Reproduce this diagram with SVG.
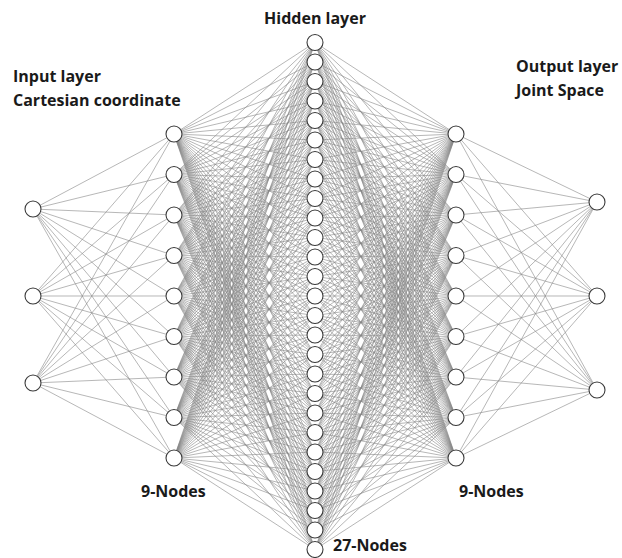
<svg xmlns="http://www.w3.org/2000/svg" width="622" height="558" viewBox="0 0 622 558">
<style>
.c{fill:#fff;stroke:#3a3a3a;stroke-width:1.1}
.t{font-family:"Open Sans","Liberation Sans",sans-serif;font-weight:bold;font-size:16px;fill:#1a1a1a}
.f{fill:none;stroke:#878787;stroke-width:0.6;vector-effect:non-scaling-stroke}
</style>
<defs>
<path id="f27" class="f" d="M0 0L141 42.5M0 0L141 62M0 0L141 81.5M0 0L141 101M0 0L141 120.5M0 0L141 140M0 0L141 159.5M0 0L141 179M0 0L141 198.5M0 0L141 218M0 0L141 237.5M0 0L141 257M0 0L141 276.5M0 0L141 296M0 0L141 315.5M0 0L141 335M0 0L141 354.5M0 0L141 374M0 0L141 393.5M0 0L141 413M0 0L141 432.5M0 0L141 452M0 0L141 471.5M0 0L141 491M0 0L141 510.5M0 0L141 530M0 0L141 549.5"/>
<path id="f9" class="f" d="M0 0L141 134M0 0L141 174.5M0 0L141 215M0 0L141 255.5M0 0L141 296M0 0L141 336.5M0 0L141 377M0 0L141 417.5M0 0L141 458"/>
</defs>
<g id="connectors">
<use href="#f9" transform="matrix(1,-1.482270,0,1,33,209)"/>
<use href="#f9" transform="matrix(1,-2.099291,0,1,33,296)"/>
<use href="#f9" transform="matrix(1,-2.716312,0,1,33,383)"/>
<use href="#f9" transform="matrix(-1,-1.432624,0,1,597,202)"/>
<use href="#f9" transform="matrix(-1,-2.099291,0,1,597,296)"/>
<use href="#f9" transform="matrix(-1,-2.765957,0,1,597,390)"/>
<use href="#f27" transform="matrix(1,-0.950355,0,1,174,134)"/>
<use href="#f27" transform="matrix(1,-1.237589,0,1,174,174.5)"/>
<use href="#f27" transform="matrix(1,-1.524823,0,1,174,215)"/>
<use href="#f27" transform="matrix(1,-1.812057,0,1,174,255.5)"/>
<use href="#f27" transform="matrix(1,-2.099291,0,1,174,296)"/>
<use href="#f27" transform="matrix(1,-2.386525,0,1,174,336.5)"/>
<use href="#f27" transform="matrix(1,-2.673759,0,1,174,377)"/>
<use href="#f27" transform="matrix(1,-2.960993,0,1,174,417.5)"/>
<use href="#f27" transform="matrix(1,-3.248227,0,1,174,458)"/>
<use href="#f27" transform="matrix(-1,-0.950355,0,1,456,134)"/>
<use href="#f27" transform="matrix(-1,-1.237589,0,1,456,174.5)"/>
<use href="#f27" transform="matrix(-1,-1.524823,0,1,456,215)"/>
<use href="#f27" transform="matrix(-1,-1.812057,0,1,456,255.5)"/>
<use href="#f27" transform="matrix(-1,-2.099291,0,1,456,296)"/>
<use href="#f27" transform="matrix(-1,-2.386525,0,1,456,336.5)"/>
<use href="#f27" transform="matrix(-1,-2.673759,0,1,456,377)"/>
<use href="#f27" transform="matrix(-1,-2.960993,0,1,456,417.5)"/>
<use href="#f27" transform="matrix(-1,-3.248227,0,1,456,458)"/>
</g>
<g id="input-layer">
<g id="in1"><circle class="c" cx="33" cy="209" r="8"/></g>
<g id="in2"><circle class="c" cx="33" cy="296" r="8"/></g>
<g id="in3"><circle class="c" cx="33" cy="383" r="8"/></g>
</g>
<g id="layer2">
<g id="a1"><circle class="c" cx="174" cy="134" r="8"/></g>
<g id="a2"><circle class="c" cx="174" cy="174.5" r="8"/></g>
<g id="a3"><circle class="c" cx="174" cy="215" r="8"/></g>
<g id="a4"><circle class="c" cx="174" cy="255.5" r="8"/></g>
<g id="a5"><circle class="c" cx="174" cy="296" r="8"/></g>
<g id="a6"><circle class="c" cx="174" cy="336.5" r="8"/></g>
<g id="a7"><circle class="c" cx="174" cy="377" r="8"/></g>
<g id="a8"><circle class="c" cx="174" cy="417.5" r="8"/></g>
<g id="a9"><circle class="c" cx="174" cy="458" r="8"/></g>
</g>
<g id="hidden-layer">
<g id="h1"><circle class="c" cx="315" cy="42.5" r="8"/></g>
<g id="h2"><circle class="c" cx="315" cy="62" r="8"/></g>
<g id="h3"><circle class="c" cx="315" cy="81.5" r="8"/></g>
<g id="h4"><circle class="c" cx="315" cy="101" r="8"/></g>
<g id="h5"><circle class="c" cx="315" cy="120.5" r="8"/></g>
<g id="h6"><circle class="c" cx="315" cy="140" r="8"/></g>
<g id="h7"><circle class="c" cx="315" cy="159.5" r="8"/></g>
<g id="h8"><circle class="c" cx="315" cy="179" r="8"/></g>
<g id="h9"><circle class="c" cx="315" cy="198.5" r="8"/></g>
<g id="h10"><circle class="c" cx="315" cy="218" r="8"/></g>
<g id="h11"><circle class="c" cx="315" cy="237.5" r="8"/></g>
<g id="h12"><circle class="c" cx="315" cy="257" r="8"/></g>
<g id="h13"><circle class="c" cx="315" cy="276.5" r="8"/></g>
<g id="h14"><circle class="c" cx="315" cy="296" r="8"/></g>
<g id="h15"><circle class="c" cx="315" cy="315.5" r="8"/></g>
<g id="h16"><circle class="c" cx="315" cy="335" r="8"/></g>
<g id="h17"><circle class="c" cx="315" cy="354.5" r="8"/></g>
<g id="h18"><circle class="c" cx="315" cy="374" r="8"/></g>
<g id="h19"><circle class="c" cx="315" cy="393.5" r="8"/></g>
<g id="h20"><circle class="c" cx="315" cy="413" r="8"/></g>
<g id="h21"><circle class="c" cx="315" cy="432.5" r="8"/></g>
<g id="h22"><circle class="c" cx="315" cy="452" r="8"/></g>
<g id="h23"><circle class="c" cx="315" cy="471.5" r="8"/></g>
<g id="h24"><circle class="c" cx="315" cy="491" r="8"/></g>
<g id="h25"><circle class="c" cx="315" cy="510.5" r="8"/></g>
<g id="h26"><circle class="c" cx="315" cy="530" r="8"/></g>
<g id="h27"><circle class="c" cx="315" cy="549.5" r="8"/></g>
</g>
<g id="layer4">
<g id="b1"><circle class="c" cx="456" cy="134" r="8"/></g>
<g id="b2"><circle class="c" cx="456" cy="174.5" r="8"/></g>
<g id="b3"><circle class="c" cx="456" cy="215" r="8"/></g>
<g id="b4"><circle class="c" cx="456" cy="255.5" r="8"/></g>
<g id="b5"><circle class="c" cx="456" cy="296" r="8"/></g>
<g id="b6"><circle class="c" cx="456" cy="336.5" r="8"/></g>
<g id="b7"><circle class="c" cx="456" cy="377" r="8"/></g>
<g id="b8"><circle class="c" cx="456" cy="417.5" r="8"/></g>
<g id="b9"><circle class="c" cx="456" cy="458" r="8"/></g>
</g>
<g id="output-layer">
<g id="out1"><circle class="c" cx="597" cy="202" r="8"/></g>
<g id="out2"><circle class="c" cx="597" cy="296" r="8"/></g>
<g id="out3"><circle class="c" cx="597" cy="390" r="8"/></g>
</g>
<g id="labels">
<text class="t" x="315" y="24" text-anchor="middle">Hidden layer</text>
<text class="t" x="13" y="82">Input layer</text>
<text class="t" x="13" y="106">Cartesian coordinate</text>
<text class="t" x="516" y="72">Output layer</text>
<text class="t" x="516" y="96">Joint Space</text>
<text class="t" x="141" y="497">9-Nodes</text>
<text class="t" x="459" y="497">9-Nodes</text>
<text class="t" x="333" y="551">27-Nodes</text>
</g>
</svg>
